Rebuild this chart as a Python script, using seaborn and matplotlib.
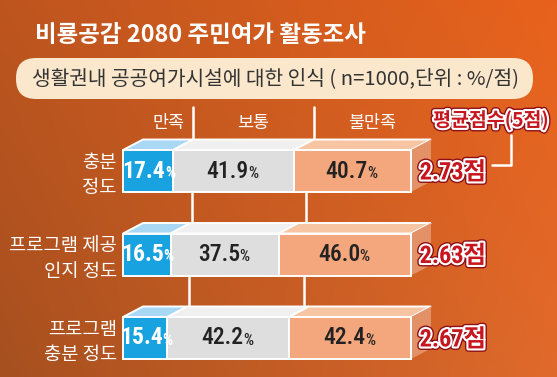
import matplotlib
matplotlib.use("Agg")
import matplotlib.pyplot as plt
import matplotlib.patheffects as pe
from matplotlib.patches import Polygon, FancyBboxPatch
import numpy as np
import pandas as pd
import seaborn as sns

# ---------------- data ----------------
categories = ["충분\n정도", "프로그램 제공\n인지 정도", "프로그램\n충분 정도"]
satisfied = [17.4, 16.5, 15.4]
neutral = [41.9, 37.5, 42.2]
dissatisfied = [40.7, 46.0, 42.4]
scores = [2.73, 2.63, 2.67]
segment_names = ["만족", "보통", "불만족"]
title_text = "비룡공감 2080 주민여가 활동조사"
subtitle_text = "생활권내 공공여가시설에 대한 인식 ( n=1000,단위 : %/점)"
score_header = "평균점수(5점)"
score_unit = "점"

# ---------------- style ----------------
sns.set_theme(style="white")
KR = "Noto Sans CJK KR"
NUM = "Roboto Condensed"
plt.rcParams["font.family"] = [KR, "DejaVu Sans"]

W, H = 557, 377
fig = plt.figure(figsize=(W / 100, H / 100), dpi=100)

# background gradient (bilinear between corner colours), pixel coordinates
tl = np.array([190, 85, 31]) / 255
tr = np.array([232, 98, 28]) / 255
bl = np.array([166, 80, 31]) / 255
br = np.array([224, 106, 44]) / 255
u = np.linspace(0, 1, 200)[None, :, None]
v = np.linspace(0, 1, 140)[:, None, None]
grad = (tl * (1 - u) + tr * u) * (1 - v) + (bl * (1 - u) + br * u) * v
bg = fig.add_axes([0, 0, 1, 1])
bg.imshow(grad, aspect="auto", extent=[0, W, H, 0], interpolation="bicubic")
bg.set_xlim(0, W)
bg.set_ylim(H, 0)
bg.axis("off")

ax = fig.add_axes([0, 0, 1, 1])
ax.patch.set_alpha(0)

PX = 2.88          # pixels per percent
X0 = 123           # pixel of 0 %
YC = 171           # pixel of first bar centre
DY = 83.5          # pixels between bars
BAR_W = 42 / DY
DXD = 20 / PX      # 3D depth in data units
DYD = -10.5 / DY

BLUE, BLUE_T = "#19a2e0", "#a8d8f4"
GREY, GREY_T = "#dedede", "#f0f0f0"
ORNG, ORNG_T, ORNG_S = "#f4a67c", "#f8c5a2", "#e29266"

df = pd.DataFrame({"cat": categories, "sat": satisfied, "neu": neutral, "dis": dissatisfied})
left_neu = df["sat"].to_numpy()
left_dis = (df["sat"] + df["neu"]).to_numpy()

kw = dict(width=BAR_W, edgecolor="white", linewidth=1.4, orient="h", ax=ax, zorder=3)
sns.barplot(data=df, y="cat", x="sat", color=BLUE, saturation=1, **kw)
sns.barplot(data=df, y="cat", x="neu", color=GREY, saturation=1, left=left_neu, **kw)
sns.barplot(data=df, y="cat", x="dis", color=ORNG, saturation=1, left=left_dis, **kw)

ax.set_xlim(-X0 / PX, (W - X0) / PX)
ax.set_ylim((H - YC) / DY, -YC / DY)
ax.axis("off")

tops = [BLUE_T, GREY_T, ORNG_T]
groups = [list(c) for c in ax.containers]
# top faces and side faces derived from drawn bars
for gi, bars in enumerate(groups):
    for b in bars:
        x, y, w, h = b.get_x(), b.get_y(), b.get_width(), b.get_height()
        ax.add_patch(Polygon([(x, y), (x + w, y), (x + w + DXD, y + DYD), (x + DXD, y + DYD)],
                             closed=True, facecolor=tops[gi], edgecolor="white", lw=1.4, zorder=2))
        if gi == 2:
            ax.add_patch(Polygon([(x + w, y), (x + w + DXD, y + DYD), (x + w + DXD, y + h + DYD), (x + w, y + h)],
                                 closed=True, facecolor=ORNG_S, edgecolor="none", zorder=2))

# connector / header lines
for k in range(2):
    seg = groups[k][0]
    xe = seg.get_x() + seg.get_width() + DXD
    ax.plot([xe, xe], [(107 - YC) / DY, seg.get_y() + DYD], color="white", lw=1.8, zorder=1)
for i in range(len(categories) - 1):
    for k in range(2):
        a, b = groups[k][i], groups[k][i + 1]
        xe = ((a.get_x() + a.get_width()) + (b.get_x() + b.get_width())) / 2 + DXD
        ax.plot([xe, xe], [a.get_y() + a.get_height(), b.get_y() + DYD], color="white", lw=1.8, zorder=1)

# header labels over first bar
for k, name in enumerate(segment_names):
    seg = groups[k][0]
    ax.text(seg.get_x() + seg.get_width() / 2 + DXD, (123 - YC) / DY, name, ha="center", va="center",
            color="white", fontsize=12.5, fontweight="medium", family=[KR])

# percent labels
def pct_label(xc, yc, val, color, weight, shift):
    t = ax.text(xc - shift, yc, f"{val:.1f}", ha="center", va="baseline", color=color,
                fontsize=17, family=[NUM, KR], fontweight=weight, zorder=5)
    ax.annotate("%", xy=(1.0, 0), xycoords=t, xytext=(-0.3, 1.1), textcoords="offset points",
                ha="left", va="bottom", color=color,
                fontsize=11.5, family=[NUM, KR], fontweight=weight, zorder=5)

for gi, bars in enumerate(groups):
    vals = [satisfied, neutral, dissatisfied][gi]
    col = "white" if gi == 0 else "#222222"
    wt = "bold" if gi == 0 else "medium"
    for b, val in zip(bars, vals):
        pct_label(b.get_x() + b.get_width() / 2, b.get_y() + b.get_height() / 2 + 6.5 / DY,
                  val, col, wt, 1.4 if gi == 0 else 2.0)

# category labels
for i, c in enumerate(categories):
    ax.text(-6 / PX, i + 4 / DY, c, ha="right", va="center", color="white", fontsize=13.5,
            fontweight="medium", linespacing=1.25, family=[KR])

# score labels
score_fx = [pe.Stroke(linewidth=5, foreground="#8e1016"), pe.Stroke(linewidth=3, foreground="white"), pe.Normal()]
for b, s in zip(groups[2], scores):
    ax.text(b.get_x() + b.get_width() + 3.0, b.get_y() + b.get_height() / 2 + 2 / DY,
            f"{s:.2f}{score_unit}", ha="left", va="center", color="#c8161e", fontsize=17.5,
            fontweight="bold", family=[NUM, KR], path_effects=score_fx, zorder=6)

# header for score column
bg.text(491, 120, score_header, ha="center", va="center", color="#c8161e",
        fontsize=14, fontweight="bold", family=[KR], path_effects=score_fx, zorder=5)
bg.plot([492, 511, 511], [165, 165, 135], color="white", lw=1.8, zorder=5)

# title and subtitle pill
bg.text(35, 35, title_text, ha="left", va="center", color="white", fontsize=16.9,
        fontweight="bold", family=[KR], zorder=5)
pill = FancyBboxPatch((16, 58), 533 - 16, 41, boxstyle="round,pad=0,rounding_size=20",
                      facecolor="#fbe7cb", edgecolor="none", zorder=4)
bg.add_patch(pill)
bg.text(32, 79, subtitle_text, ha="left", va="center", color="#333333", fontsize=14.6,
        family=[KR], zorder=5)

fig.savefig("out.png", dpi=100)
